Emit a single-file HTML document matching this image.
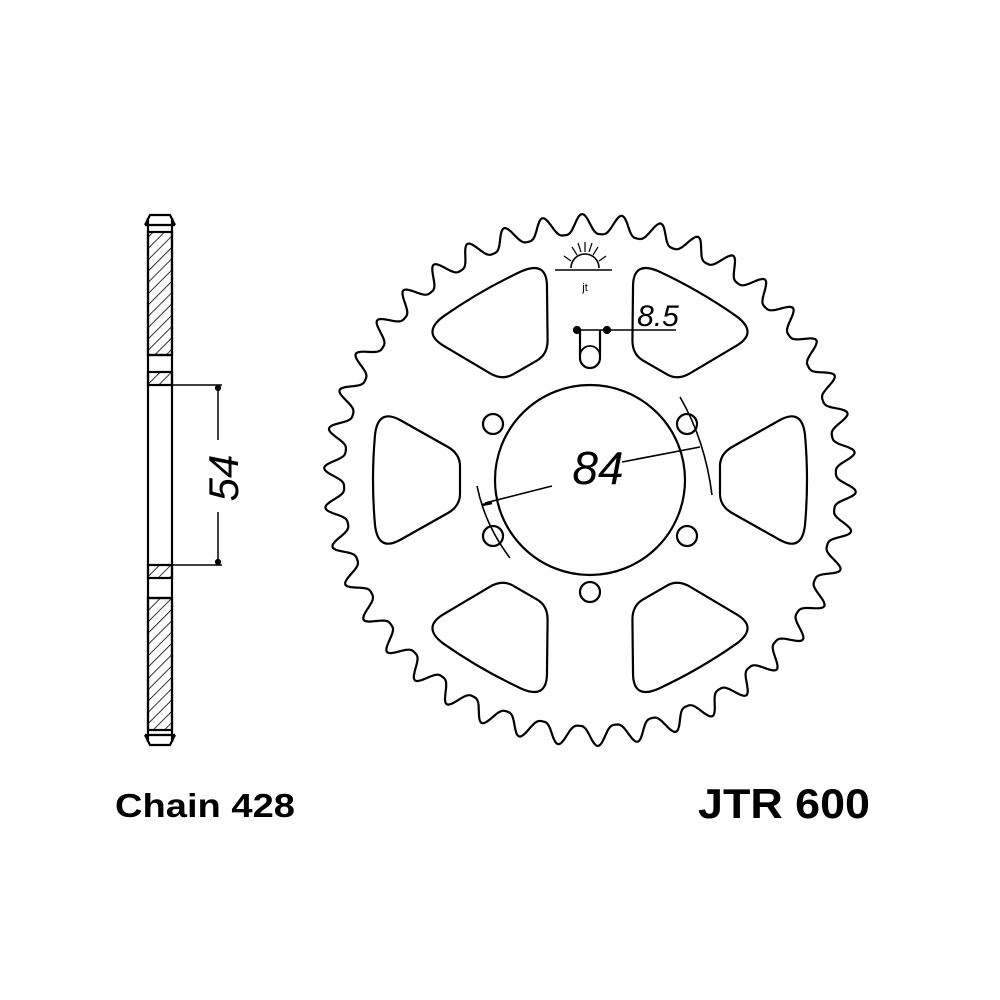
<!DOCTYPE html>
<html><head><meta charset="utf-8"><style>
html,body{margin:0;padding:0;background:#fff}
svg{display:block}
text{font-family:"Liberation Sans",sans-serif;fill:#000}
</style></head><body>
<svg id="s" width="1000" height="1000" viewBox="0 0 1000 1000">
<defs>
<pattern id="h" width="8" height="8" patternUnits="userSpaceOnUse" patternTransform="rotate(45)">
<line x1="0" y1="0" x2="0" y2="8" stroke="#000" stroke-width="1.6"/>
</pattern>
</defs>
<g fill="none" stroke="#000" stroke-width="2.2">
<rect x="148" y="232" width="24" height="123" fill="url(#h)"/>
<rect x="148" y="372" width="24" height="13" fill="url(#h)"/>
<rect x="148" y="565" width="24" height="13" fill="url(#h)"/>
<rect x="148" y="598" width="24" height="132" fill="url(#h)"/>
<line x1="148" y1="218" x2="148" y2="742"/>
<line x1="172" y1="218" x2="172" y2="742"/>
<path d="M145 225 L150 215 L170 215 L175 225 M145 225 H175"/>
<path d="M145 735 L150 745 L170 745 L175 735 M145 735 H175"/>
<line x1="148" y1="355" x2="172" y2="355"/>
<line x1="148" y1="598" x2="172" y2="598"/>
<line x1="172" y1="385" x2="222" y2="385" stroke-width="1.5"/>
<line x1="172" y1="565" x2="222" y2="565" stroke-width="1.5"/>
<line x1="218" y1="385" x2="218" y2="440" stroke-width="1.5"/>
<line x1="218" y1="512" x2="218" y2="565" stroke-width="1.5"/>
<circle cx="218" cy="388" r="2" fill="#000"/><circle cx="218" cy="562" r="2" fill="#000"/>
<path id="teeth"/>
<circle cx="590" cy="480" r="95"/>
<g id="holes"></g>
<g id="wins"></g>
<path d="M580 330 V358 A10 10 0 0 0 600 358 V330"/>
<path d="M580 356 A10 10 0 0 1 600 356" stroke-width="1.8"/>
<line x1="576" y1="330" x2="676" y2="330" stroke-width="1.6"/>
<circle cx="577" cy="330" r="3" fill="#000"/><circle cx="607" cy="330" r="3" fill="#000"/>
<line x1="485" y1="503" x2="552" y2="486" stroke-width="1.6"/>
<line x1="622" y1="462" x2="700" y2="447" stroke-width="1.6"/>
<path d="M477 486 Q485 525 510 558" stroke-width="1.6"/>
<path d="M680 397 Q705 440 712 495" stroke-width="1.6"/>
<line x1="482" y1="505" x2="492" y2="503" stroke-width="2.5"/>
<line x1="555" y1="270" x2="612" y2="270" stroke-width="1.6"/>
<path d="M571 268 A14 14 0 0 1 599 268" stroke-width="1.6"/>
<path d="M585 242 V252 M572 247 L577 255 M598 247 L593 255 M564 256 L571 261 M606 256 L599 261 M578 243 L581 252 M592 243 L589 252" stroke-width="1.2"/>
</g>
<text x="585" y="291" font-size="11" text-anchor="middle">jt</text>
<text x="658" y="326" font-size="30" text-anchor="middle" font-style="italic">8.5</text>
<text x="598" y="484" font-size="46" text-anchor="middle" font-style="italic">84</text>
<text transform="translate(238,478) rotate(-90)" font-size="42" text-anchor="middle" font-style="italic">54</text>
<text x="115" y="817" font-size="33" font-weight="bold" textLength="180" lengthAdjust="spacingAndGlyphs">Chain 428</text>
<text x="698" y="818" font-size="42" font-weight="bold" textLength="172" lengthAdjust="spacingAndGlyphs">JTR 600</text>
</svg>
<script>
var cx=590,cy=480,N=42,rt=266,rr=246,off=-1.7*Math.PI/180;
var d="";
for(var k=0;k<=3000;k++){var t=k/3000*2*Math.PI;
var ph=N*(t-off);var c=0.5+0.5*Math.cos(ph);var f=Math.pow(c,1.6);
var r=rr+(rt-rr)*f;var x=cx+r*Math.sin(t),y=cy-r*Math.cos(t);
d+=(k?"L":"M")+x.toFixed(1)+" "+y.toFixed(1);}
document.getElementById("teeth").setAttribute("d",d+"Z");
var H="";
[60,120,180,240,300].forEach(function(a){var t=a*Math.PI/180;
H+='<circle cx="'+(cx+112*Math.sin(t)).toFixed(1)+'" cy="'+(cy-112*Math.cos(t)).toFixed(1)+'" r="10"/>';});
document.getElementById("holes").innerHTML=H;
var W="";
var wp="M130 -14 Q130 -26 142 -33 L190 -60 Q212 -72 215 -45 Q219 0 215 45 Q212 72 190 60 L142 33 Q130 26 130 14 Z";
[30,90,150,210,270,330].forEach(function(a){
W+='<path transform="translate('+cx+' '+cy+') rotate('+(a-90)+')" d="'+wp+'"/>';});
document.getElementById("wins").innerHTML=W;
</script>
</body></html>
